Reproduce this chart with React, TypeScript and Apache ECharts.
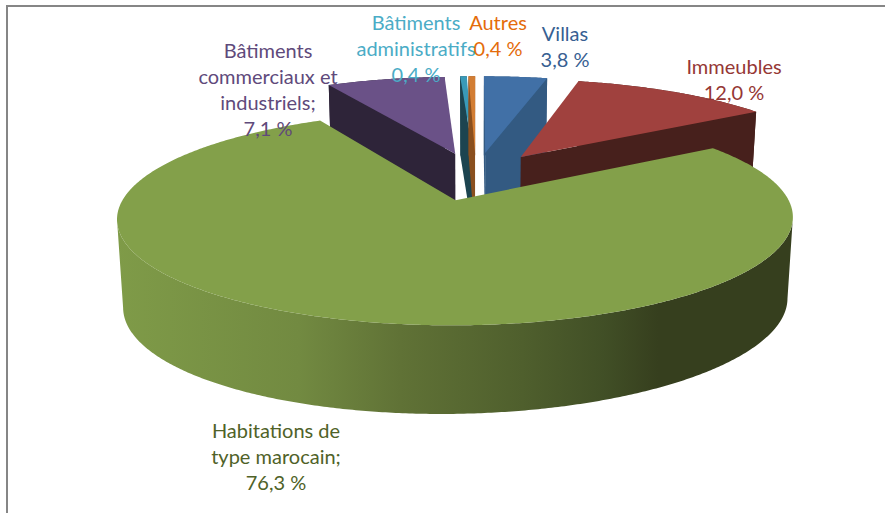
import React, { useEffect, useRef } from "react";
import * as echarts from "echarts";

const sliceNames = ["Villas", "Immeubles", "Habitations de type marocain", "Bâtiments commerciaux et industriels", "Bâtiments administratifs", "Autres"];
const sliceValues = [3.8, 12.0, 76.3, 7.1, 0.4, 0.4];
const topColors = ["#4170A6", "#A0413E", "#83A04A", "#6A5187", "#3A9AB8", "#D27D33"];
const wallColors = ["#335A82", "#47201C", "#7F9B48", "#2E2439", "#1C4450", "#8A4F1E"];
const labelColors = ["#376092", "#953735", "#4F6228", "#604A7B", "#4BACC6", "#E46C0A"];
const paintOrder = [0, 3, 4, 5, 1, 2];
const labelLines = [["Villas"], ["Immeubles"], ["Habitations de", "type marocain;"], ["Bâtiments", "commerciaux et", "industriels;"], ["Bâtiments", "administratifs"], ["Autres"]];
const labelSpots = [[565, 20], [734, 53], [276, 417], [268, 37], [416, 9], [498, 9]];

const CX = 476, CY = 176, A = 320, B = 96, K = 0.162, EXPLODE = 0.25;
const total = sliceValues.reduce((a, b) => a + b, 0);
const rad = (d: number) => (d * Math.PI) / 180;

function sliceAngles(i: number) {
  let start = 0;
  for (let j = 0; j < i; j++) start += (sliceValues[j] / total) * 360;
  return [start, start + (sliceValues[i] / total) * 360];
}
function project(u: number, v: number) {
  const s = 1 / (1 - K * v);
  return { x: CX + A * u * s, y: CY + B * v * s, s };
}
function lower(p: { x: number; y: number; s: number }) {
  const h = 61 + 22 * p.s - 0.0105 * (p.x - 455);
  return [CX + (p.x - CX) * 0.983, p.y + h];
}

function renderSlice(params: any, api: any) {
  const i = paintOrder[params.dataIndex];
  const [a0, a1] = sliceAngles(i);
  const mid = (a0 + a1) / 2;
  const u0 = EXPLODE * Math.sin(rad(mid));
  const v0 = -EXPLODE * Math.cos(rad(mid));
  const apex = project(u0, v0);
  const at = (d: number, r = 1) => project(u0 + r * Math.sin(rad(d)), v0 - r * Math.cos(rad(d)));
  const rim: any[] = [];
  const n = Math.max(2, Math.ceil((a1 - a0) * 2));
  for (let k = 0; k <= n; k++) rim.push(at(a0 + ((a1 - a0) * k) / n));
  const inner = at(mid, 0.6);
  const children: any[] = [];

  const green = i === 2;
  const wallFill: any = green
    ? new echarts.graphic.LinearGradient(115, 0, 794, 0, [
        { offset: 0, color: "#7F9B48" },
        { offset: 0.27, color: "#728A41" },
        { offset: 0.42, color: "#607236" },
        { offset: 0.6, color: "#4F5F2D" },
        { offset: 0.72, color: "#414F26" },
        { offset: 0.8, color: "#363F1E" },
        { offset: 1, color: "#363F1E" },
      ], true)
    : wallColors[i];

  // keep only the part of the rim that runs monotonically in x, so the wall does not fold over itself
  let iMax = 0, iMin = 0;
  rim.forEach((p, k) => {
    if (p.x > rim[iMax].x) iMax = k;
    if (p.x < rim[iMin].x) iMin = k;
  });
  const seen = rim.slice(Math.min(iMax, iMin), Math.max(iMax, iMin) + 1);
  const rimPts = [...seen.map((p) => [p.x, p.y]), ...seen.slice().reverse().map(lower)];
  children.push({ type: "polygon", shape: { points: rimPts }, style: { fill: wallFill } });

  [a0, a1].forEach((d) => {
    const r = at(d);
    const dx = r.x - apex.x;
    if (Math.abs(dx) < 0.5) return;
    const lineY = apex.y + ((r.y - apex.y) * (inner.x - apex.x)) / dx;
    if (inner.y > lineY) return;
    children.push({
      type: "polygon",
      shape: { points: [[apex.x, apex.y], [r.x, r.y], lower(r), lower(apex)] },
      style: { fill: wallColors[i] },
    });
  });

  children.push({
    type: "polygon",
    shape: { points: [[apex.x, apex.y], ...rim.map((p) => [p.x, p.y])] },
    style: { fill: topColors[i] },
  });
  return { type: "group", children };
}

const pct = (v: number) => `${v.toFixed(1).replace(".", ",")} %`;

export default function App() {
  const ref = useRef<HTMLDivElement>(null);
  useEffect(() => {
    document.body.style.margin = "0";
    const chart = echarts.init(ref.current!, undefined, { renderer: "svg" });
    chart.setOption({
      animation: false,
      backgroundColor: "#ffffff",
      series: [
        {
          type: "custom",
          coordinateSystem: "none",
          silent: true,
          renderItem: renderSlice,
          data: paintOrder.map((i) => ({ name: sliceNames[i], value: sliceValues[i] })),
        },
      ],
      graphic: [
        { type: "rect", z: 1, shape: { x: 6, y: 5, width: 879, height: 2 }, style: { fill: "#868686" } },
        { type: "rect", z: 1, shape: { x: 6, y: 5, width: 2, height: 508 }, style: { fill: "#868686" } },
        ...labelLines.map((lines, i) => ({
          type: "text",
          z: 10,
          x: labelSpots[i][0],
          y: labelSpots[i][1],
          style: {
            text: [...lines, pct(sliceValues[i])].join("\n"),
            fill: labelColors[i],
            font: '20px Lato, "Open Sans", sans-serif',
            lineHeight: 26,
            align: "center",
            verticalAlign: "top",
          },
        })),
      ],
    });
    return () => chart.dispose();
  }, []);
  return <div ref={ref} style={{ position: "absolute", left: 0, top: 0, width: 885, height: 513 }} />;
}
